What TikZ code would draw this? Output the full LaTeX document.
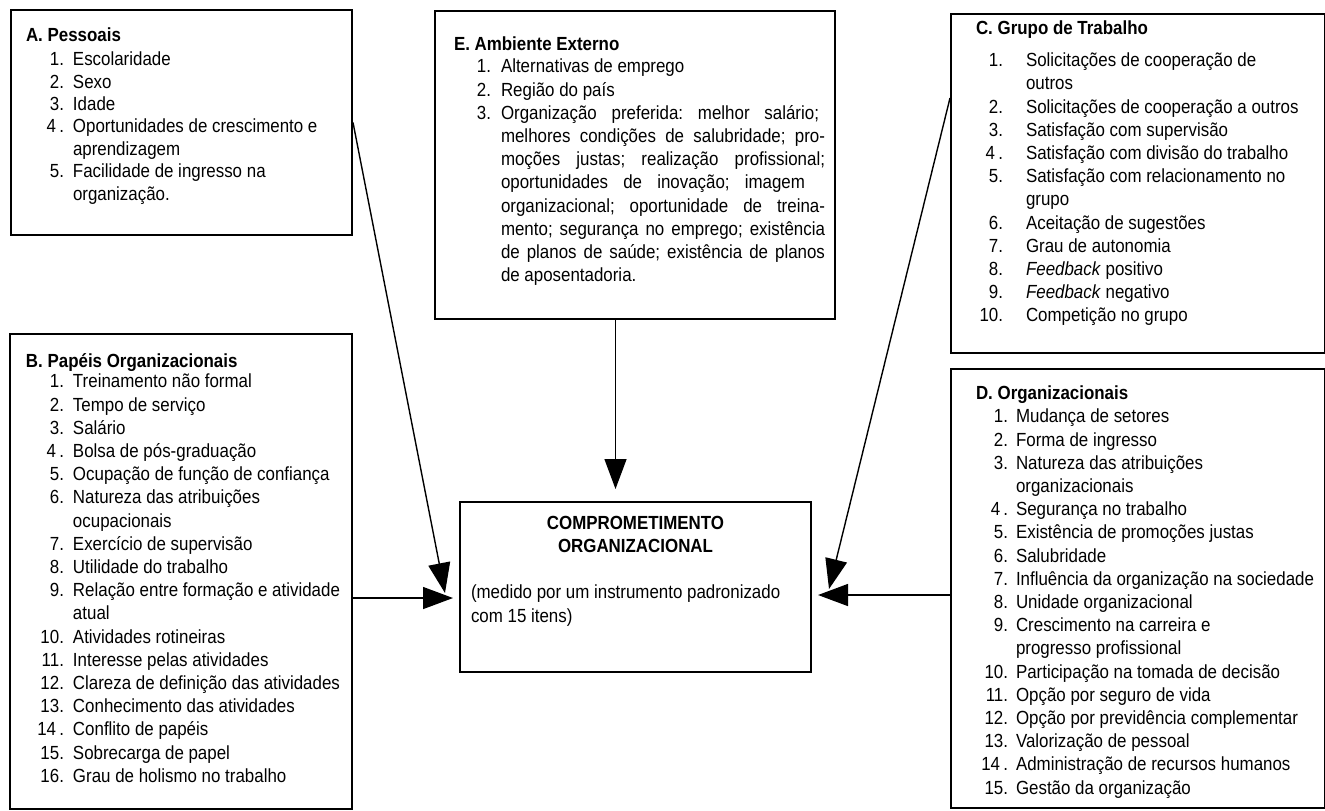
\documentclass[tikz,border=0pt]{standalone}
\usepackage{fontspec}
\setmainfont{Liberation Sans}[FakeStretch=0.89]
\usetikzlibrary{arrows.meta}
\frenchspacing
%
\newlength{\nrwd}
\newlength{\nrgap}
\newcommand{\nr}[2]{\makebox[\nrwd][r]{#1}\hspace{\nrgap}\mbox{#2}}
\newcommand{\conteudo}[4]{\begin{minipage}[c][#2][t]{#1}\raggedright\vspace*{#3}#4\end{minipage}}
%
\tikzset{
  caixa/.style={draw, line width=1pt, inner sep=0pt, anchor=north west,
    font=\fontsize{9.5}{11.6}\selectfont},
  seta/.style={-{Triangle[length=15pt,width=11pt]}, line width=0.7pt}
}
\begin{document}
\begin{tikzpicture}[x=0.5pt, y=-0.5pt]
      \useasboundingbox (0,0) rectangle (1325,810);
      %
      \node[caixa] (A) at (10,9) {\conteudo{170.5pt}{112.5pt}{9pt}{%
        \fontsize{9.5}{11.2}\selectfont
        \setlength{\nrwd}{26.5pt}\setlength{\nrgap}{4.5pt}%
        \hspace*{7.5pt}\mbox{\textbf{A. Pessoais}}\\[0.8pt]
        \nr{1.}{Escolaridade}\\
        \nr{2.}{Sexo}\\
        \nr{3.}{Idade}\\
        \nr{4\,.}{Oportunidades de crescimento e}\\
        \nr{}{aprendizagem}\\
        \nr{5.}{Facilidade de ingresso na}\\
        \nr{}{organização.}}};
      %
      \node[caixa] (B) at (9,333) {\conteudo{171pt}{237.5pt}{10pt}{%
        \setlength{\nrwd}{27pt}\setlength{\nrgap}{4.5pt}%
        \hspace*{8pt}\mbox{\textbf{B. Papéis Organizacionais}}\\[-1.6pt]
        \nr{1.}{Treinamento não formal}\\
        \nr{2.}{Tempo de serviço}\\
        \nr{3.}{Salário}\\
        \nr{4\,.}{Bolsa de pós-graduação}\\
        \nr{5.}{Ocupação de função de confiança}\\
        \nr{6.}{Natureza das atribuições}\\
        \nr{}{ocupacionais}\\
        \nr{7.}{Exercício de supervisão}\\
        \nr{8.}{Utilidade do trabalho}\\
        \nr{9.}{Relação entre formação e atividade}\\
        \nr{}{atual}\\
        \nr{10.}{Atividades rotineiras}\\
        \nr{11.}{Interesse pelas atividades}\\
        \nr{12.}{Clareza de definição das atividades}\\
        \nr{13.}{Conhecimento das atividades}\\
        \nr{14\,.}{Conflito de papéis}\\
        \nr{15.}{Sobrecarga de papel}\\
        \nr{16.}{Grau de holismo no trabalho}}};
      %
      \node[caixa] (E) at (434,10) {\conteudo{200pt}{154pt}{13pt}{%
        \setlength{\nrwd}{28pt}\setlength{\nrgap}{5pt}%
        \hspace*{9.5pt}\mbox{\textbf{E. Ambiente Externo}}\\[-0.5pt]
        \nr{1.}{Alternativas de emprego}\\
        \nr{2.}{Região do país}\\
        \nr{3.}{\makebox[159pt][s]{Organização preferida: melhor salário;}}\\
        \nr{}{\makebox[162pt][s]{melhores condições de salubridade; pro-}}\\
        \nr{}{\makebox[162pt][s]{moções justas; realização profissional;}}\\
        \nr{}{\makebox[152pt][s]{oportunidades de inovação; imagem}}\\
        \nr{}{\makebox[162pt][s]{organizacional; oportunidade de treina-}}\\
        \nr{}{\makebox[162pt][s]{mento; segurança no emprego; existência}}\\
        \nr{}{\makebox[162pt][s]{de planos de saúde; existência de planos}}\\
        \nr{}{de aposentadoria.}}};
      %
      \node[caixa] (C) at (950,13) {\conteudo{187pt}{169.5pt}{3.5pt}{%
        \setlength{\nrwd}{26pt}\setlength{\nrgap}{11.5pt}%
        \hspace*{12.5pt}\mbox{\textbf{C. Grupo de Trabalho}}\\[4.4pt]
        \nr{1.}{Solicitações de cooperação de}\\
        \nr{}{outros}\\
        \nr{2.}{Solicitações de cooperação a outros}\\
        \nr{3.}{Satisfação com supervisão}\\
        \nr{4\,.}{Satisfação com divisão do trabalho}\\
        \nr{5.}{Satisfação com relacionamento no}\\
        \nr{}{grupo}\\
        \nr{6.}{Aceitação de sugestões}\\
        \nr{7.}{Grau de autonomia}\\
        \nr{8.}{\textit{Feedback} positivo}\\
        \nr{9.}{\textit{Feedback} negativo}\\
        \nr{10.}{Competição no grupo}}};
      %
      \node[caixa] (D) at (950,368) {\conteudo{187pt}{219.5pt}{8.5pt}{%
        \setlength{\nrwd}{28.5pt}\setlength{\nrgap}{4pt}%
        \hspace*{12.5pt}\mbox{\textbf{D. Organizacionais}}\\
        \nr{1.}{Mudança de setores}\\
        \nr{2.}{Forma de ingresso}\\
        \nr{3.}{Natureza das atribuições}\\
        \nr{}{organizacionais}\\
        \nr{4\,.}{Segurança no trabalho}\\
        \nr{5.}{Existência de promoções justas}\\
        \nr{6.}{Salubridade}\\
        \nr{7.}{Influência da organização na sociedade}\\
        \nr{8.}{Unidade organizacional}\\
        \nr{9.}{Crescimento na carreira e}\\
        \nr{}{progresso profissional}\\
        \nr{10.}{Participação na tomada de decisão}\\
        \nr{11.}{Opção por seguro de vida}\\
        \nr{12.}{Opção por previdência complementar}\\
        \nr{13.}{Valorização de pessoal}\\
        \nr{14\,.}{Administração de recursos humanos}\\
        \nr{15.}{Gestão da organização}}};
      %
      \node[caixa] (comp) at (459,501) {\conteudo{175.5pt}{85pt}{7pt}{%
        {\centering\textbf{COMPROMETIMENTO}\\\textbf{ORGANIZACIONAL}\par}
        \vspace{11.6pt}
        \hspace*{5.5pt}\mbox{(medido por um instrumento padronizado}\\
        \hspace*{5.5pt}\mbox{com 15 itens)}}};
      %
      \coordinate (pontaB) at ([xshift=-3pt,yshift=-5.5pt]comp.west);
      \coordinate (pontaE) at ([xshift=-10pt,yshift=6pt]comp.north);
      \coordinate (pontaD) at ([xshift=3pt,yshift=-4pt]comp.east);
      %
      \draw[seta] (A.east) -- ([xshift=-7pt,yshift=-3pt]comp.west);
      \draw[seta] (B.east |- pontaB) -- (pontaB);
      \draw[seta] (E.south -| pontaE) -- (pontaE);
      \draw[seta] ([yshift=42.75pt]C.west) -- ([xshift=8.5pt,yshift=-1pt]comp.east);
      \draw[seta] (D.west |- pontaD) -- (pontaD);
      %
    \end{tikzpicture}
\end{document}
